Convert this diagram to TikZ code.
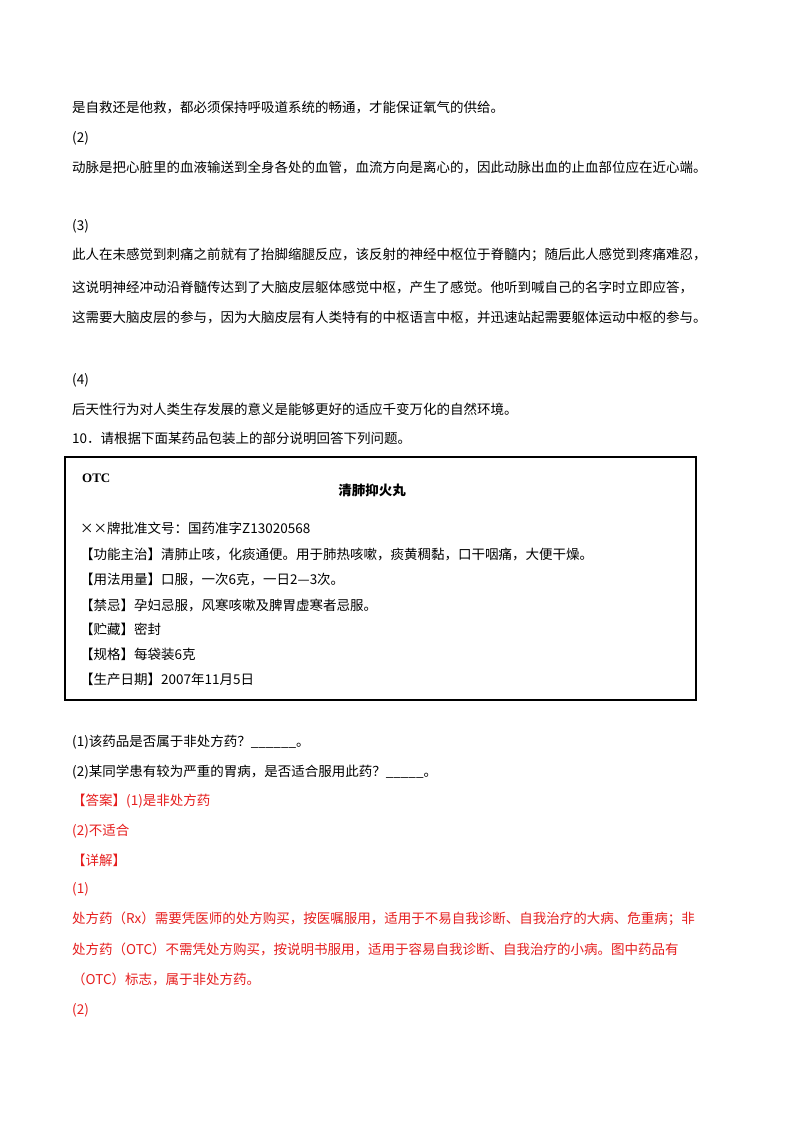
\documentclass[tikz,border=0pt]{standalone}
\usepackage{fontspec}
\setmainfont{Liberation Serif}
\newfontfamily\cjk{Noto Sans CJK SC}
\begin{document}
\begin{tikzpicture}[x=1pt,y=-1pt,
  t/.style={anchor=west,inner sep=0,font=\fontsize{13.5}{16}\selectfont\cjk},
  r/.style={t,text={rgb,255:red,230;green,30;blue,30}}]
\useasboundingbox[fill=white] (0,0) rectangle (800,1132);
\node[t] (l1) at (72,108) {是自救还是他救，都必须保持呼吸道系统的畅通，才能保证氧气的供给。};
\node[t] (l2) at (72,138) {(2)};
\node[t] (l3) at (72,167) {动脉是把心脏里的血液输送到全身各处的血管，血流方向是离心的，因此动脉出血的止血部位应在近心端。};
\node[t] (l4) at (72,226) {(3)};
\node[t] (l5) at (72,255) {此人在未感觉到刺痛之前就有了抬脚缩腿反应，该反射的神经中枢位于脊髓内；随后此人感觉到疼痛难忍，};
\node[t] (l6) at (72,287) {这说明神经冲动沿脊髓传达到了大脑皮层躯体感觉中枢，产生了感觉。他听到喊自己的名字时立即应答，};
\node[t] (l7) at (72,318) {这需要大脑皮层的参与，因为大脑皮层有人类特有的中枢语言中枢，并迅速站起需要躯体运动中枢的参与。};
\node[t] (l8) at (72,380) {(4)};
\node[t] (l9) at (72,409) {后天性行为对人类生存发展的意义是能够更好的适应千变万化的自然环境。};
\node[t] (l10) at (72,438) {10．请根据下面某药品包装上的部分说明回答下列问题。};
\draw[line width=1.2pt] (65,457) rectangle (696,700);
\node[anchor=west,inner sep=0,font=\fontsize{13}{15}\selectfont\bfseries] (otc) at (82,478) {OTC};
\node[t,anchor=center,font=\fontsize{13.5}{16}\selectfont\cjk\bfseries] (title) at (372,490) {清肺抑火丸};
\node[t] (b1) at (80,528) {××牌批准文号：国药准字Z13020568};
\node[t] (b2) at (80,555) {【功能主治】清肺止咳，化痰通便。用于肺热咳嗽，痰黄稠黏，口干咽痛，大便干燥。};
\node[t] (b3) at (80,580) {【用法用量】口服，一次6克，一日2—3次。};
\node[t] (b4) at (80,605) {【禁忌】孕妇忌服，风寒咳嗽及脾胃虚寒者忌服。};
\node[t] (b5) at (80,629) {【贮藏】密封};
\node[t] (b6) at (80,654) {【规格】每袋装6克};
\node[t] (b7) at (80,679) {【生产日期】2007年11月5日};
\node[t] (q1) at (72,742) {(1)该药品是否属于非处方药？\_\_\_\_\_\_。};
\node[t] (q2) at (72,772) {(2)某同学患有较为严重的胃病，是否适合服用此药？\_\_\_\_\_。};
\node[r] (a1) at (72,801) {【答案】(1)是非处方药};
\node[r] (a2) at (72,831) {(2)不适合};
\node[r] (a3) at (72,860) {【详解】};
\node[r] (a4) at (72,889) {(1)};
\node[r] (a5) at (72,919) {处方药（Rx）需要凭医师的处方购买，按医嘱服用，适用于不易自我诊断、自我治疗的大病、危重病；非};
\node[r] (a6) at (72,949) {处方药（OTC）不需凭处方购买，按说明书服用，适用于容易自我诊断、自我治疗的小病。图中药品有};
\node[r] (a7) at (72,979) {（OTC）标志，属于非处方药。};
\node[r] (a8) at (72,1010) {(2)};
\end{tikzpicture}
\end{document}
